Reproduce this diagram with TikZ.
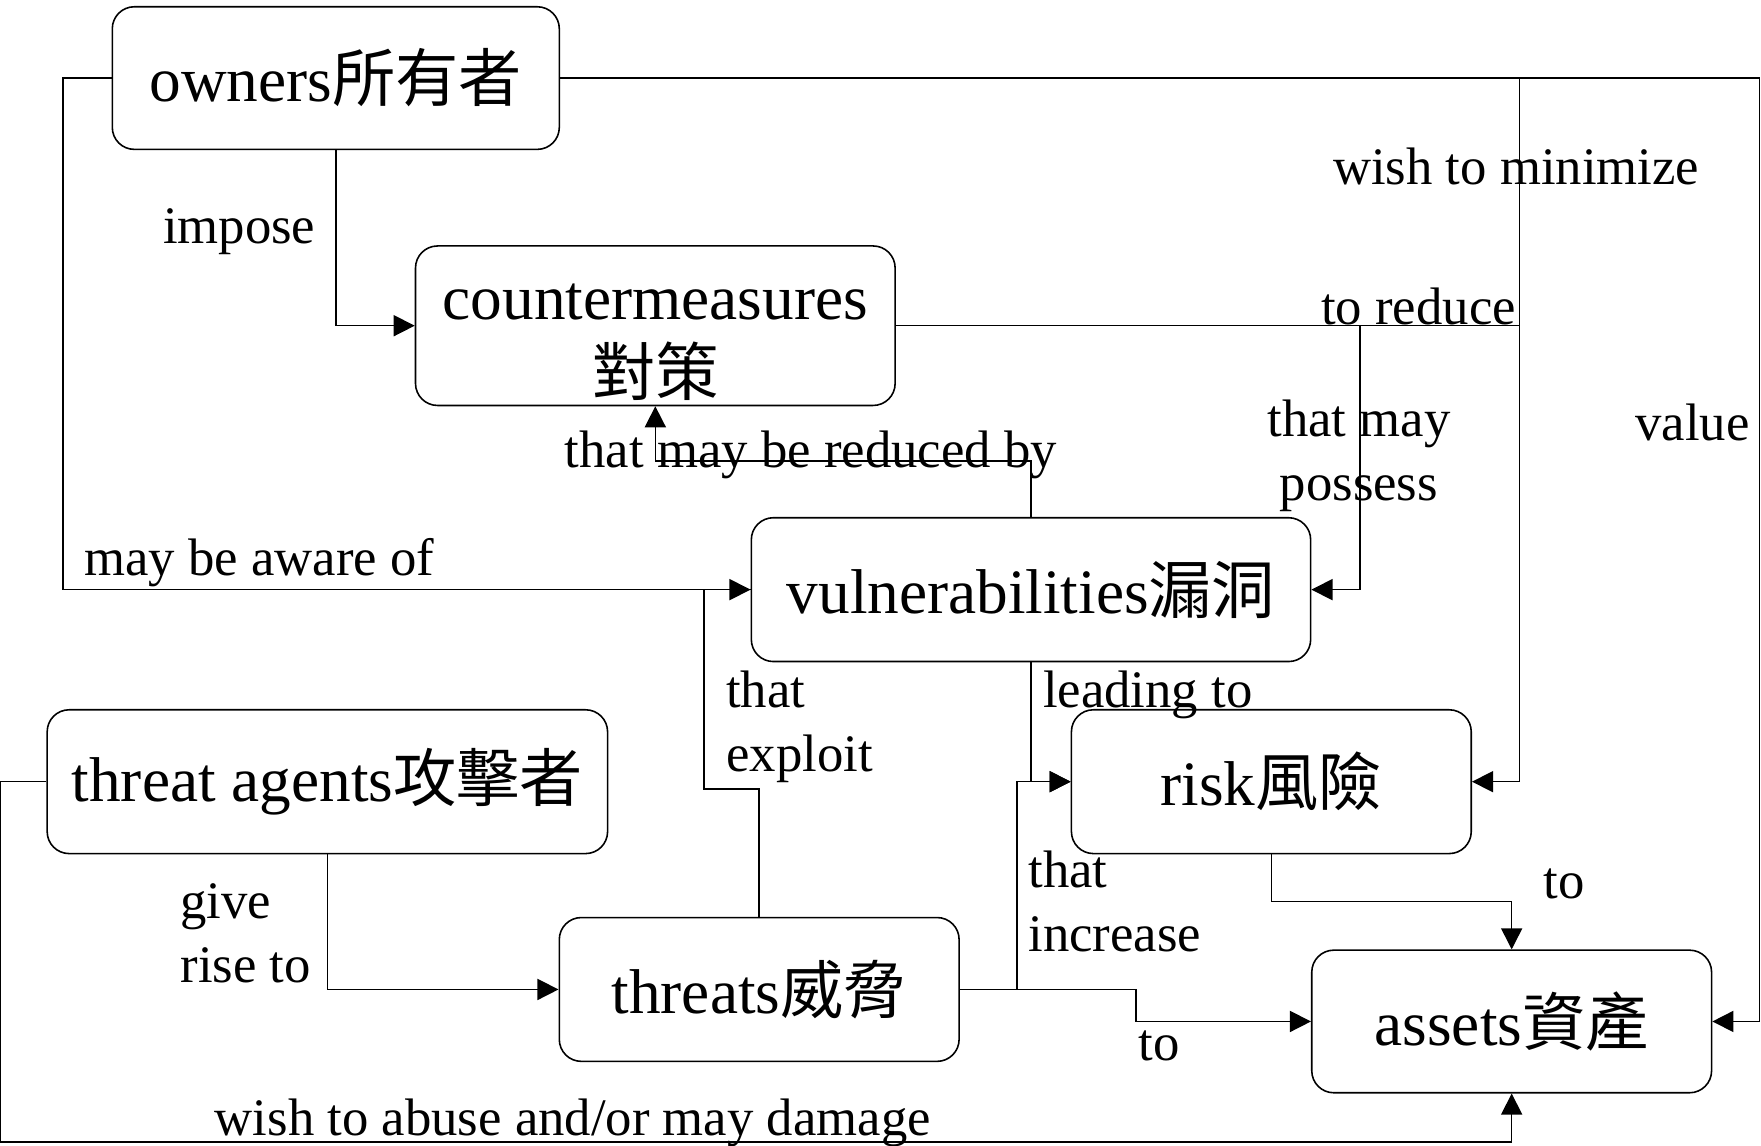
\documentclass[tikz,border=0pt]{standalone}
\usepackage{fontspec}
\setmainfont{Liberation Serif}
\newfontfamily\cjk{Noto Sans CJK TC}
\usetikzlibrary{arrows.meta}
\tikzset{
    box/.style={draw, rounded corners=2.2mm, inner sep=0pt, align=center,
        minimum height=14.38mm, font=\fontsize{18}{21.5}\selectfont},
    lbl/.style={inner sep=0pt, font=\fontsize{15}{18.2}\selectfont},
    arr/.style={-{Triangle[length=6pt,width=6pt]}}
}

\begin{document}
\begin{tikzpicture}[x=0.11231mm, y=-0.11231mm, line width=0.45pt]
        \useasboundingbox (0,0) rectangle (1568,1020);
        % Boxes
        \node[box, minimum width=44.70mm, minimum height=14.26mm] (own) at (299,69.5) {owners{\cjk 所有者}};
        \node[box, minimum width=47.96mm, minimum height=15.95mm] (cm) at (583.5,290) {\rule{0pt}{19.5pt}countermeasures\\{\cjk 對策}};
        \node[box, minimum width=55.93mm] (vul) at (918,525) {vulnerabilities{\cjk 漏洞}};
        \node[box, minimum width=56.04mm] (ta) at (291.5,696) {threat agents{\cjk 攻擊者}};
        \node[box, minimum width=39.98mm] (rsk) at (1132,696) {risk{\cjk 風險}};
        \node[box, minimum width=39.98mm] (thr) at (676,881) {threats{\cjk 威脅}};
        \node[box, minimum width=39.98mm, minimum height=14.26mm] (ast) at (1346,909.5) {assets{\cjk 資產}};

        % Branch points
        \coordinate (wm) at (1353,69.5);
        \coordinate (tr) at (1211,290);

        % Owners
        \draw[arr] (own.west) -- ++(-43,0) |- (vul.west);
        \draw[arr] (own.east) -- ++(1068,0) |- (ast.east);
        \draw[arr] (wm) |- (rsk.east);
        \draw[arr] (own.south) |- (cm.west);

        % Countermeasures
        \draw (cm.east) -- (wm |- cm.east);
        \draw[arr] (tr) |- (vul.east);

        % Vulnerabilities
        \draw[arr] (vul.north) -- ++(0,-50) -| (cm.south);
        \draw[arr] (vul.south) |- (rsk.west);

        % Threats and threat agents
        \draw (thr.north) -- ++(0,-114) -- ++(-49,0) |- (vul.west);
        \draw[arr] (ta.south) |- (thr.west);
        \draw[arr] (thr.east) -- ++(51,0) |- (rsk.west);
        \draw[arr] (thr.east) -- ++(157,0) |- (ast.west);
        \draw[arr] (rsk.south) -- ++(0,42) -| (ast.north);
        \draw[arr] (ta.west) -- ++(-41,0) -- ++(0,321) -| (ast.south);

        % Labels
        \node[lbl] (impose) at (213,206) {impose};
        \node[lbl] (aware) at (231,501) {may be aware of};
        \node[lbl] (minimize) at (1350,148) {wish to minimize};
        \node[lbl] (reduce) at (1263,273) {to reduce};
        \node[lbl] (value) at (1507,376) {value};
        \node[lbl, align=center] (possess) at (1210,406) {that may\\possess};
        \node[lbl] (reducedby) at (722,405) {that may be reduced by};
        \node[lbl] (leading) at (1022,619) {leading to};
        \node[lbl, align=left, anchor=west] (exploit) at (646,647) {that\\exploit};
        \node[lbl, align=left, anchor=west] (rise) at (160,831) {give\\rise to};
        \node[lbl, align=left, anchor=west] (increase) at (915,803) {that\\increase};
        \node[lbl] (toast) at (1032,931) {to};
        \node[lbl] (torisk) at (1393,787) {to};
        \node[lbl] (abuse) at (510,1000) {wish to abuse and/or may damage};
\end{tikzpicture}
\end{document}
